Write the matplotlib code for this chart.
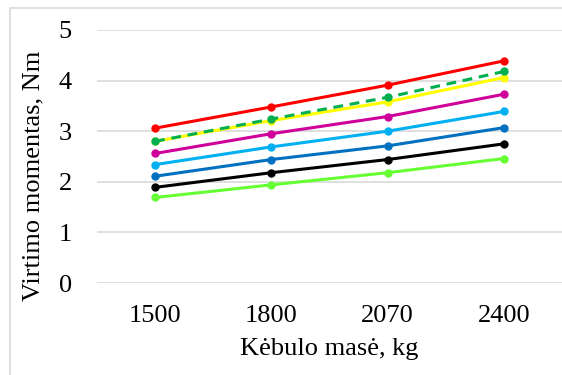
import matplotlib
matplotlib.use('Agg')
import matplotlib.pyplot as plt
from matplotlib.patches import Rectangle

# masses (x categories) and torque series, Nm
masses = ['1500', '1800', '2070', '2400']

red = [3.06, 3.48, 3.91, 4.39]
green_dash = [2.80, 3.24, 3.67, 4.18]
yellow = [2.80, 3.21, 3.58, 4.06]
magenta = [2.56, 2.95, 3.29, 3.73]
cyan = [2.34, 2.69, 3.00, 3.39]
blue = [2.11, 2.44, 2.71, 3.07]
black = [1.89, 2.18, 2.44, 2.75]
light_green = [1.69, 1.94, 2.18, 2.46]

series = [
    (light_green, '#66FF33', '-'),
    (black, '#000000', '-'),
    (blue, '#0070C0', '-'),
    (cyan, '#00B0F0', '-'),
    (magenta, '#D0009A', '-'),
    (yellow, '#FFFF00', '-'),
    (green_dash, '#00B050', (0, (3.2, 2.2))),
    (red, '#FF0000', '-'),
]

plt.rcParams['font.family'] = ['Liberation Serif', 'DejaVu Serif']

fig = plt.figure(figsize=(5.62, 3.75), dpi=100)
ax = fig.add_axes([97 / 562, 92 / 375, 465 / 562, 253 / 375])

x = list(range(len(masses)))
for vals, col, ls in series:
    ax.plot(x, vals, color=col, linestyle=ls, linewidth=2.2,
            marker='o', markersize=5, zorder=3)

ax.set_xlim(-0.5, 3.5)
ax.set_ylim(0, 5)
ax.set_yticks([0, 1, 2, 3, 4, 5])
ax.set_xticks(x)
ax.set_xticklabels(masses)
ax.grid(axis='y', color='#d9d9d9', linewidth=1.2)
ax.set_axisbelow(True)
for s in ax.spines.values():
    s.set_visible(False)
ax.tick_params(length=0, labelsize=19)
ax.tick_params(axis='x', pad=16)
ax.tick_params(axis='y', pad=18)

ax.set_xlabel('Kėbulo masė, kg', fontsize=19, labelpad=8)
ax.set_ylabel('Virtimo momentas, Nm', fontsize=19, va='center')
# axis title sits a little below the plot centre, like the source chart
ax.yaxis.set_label_coords(33 / 562, 199 / 375, transform=fig.transFigure)

# light outer frame of the chart area
fig.patches.append(Rectangle((10 / 562, -0.1), 1.2, (375 - 8) / 375 + 0.1,
                             transform=fig.transFigure, fill=False,
                             edgecolor='#d9d9d9', linewidth=1.2))

fig.savefig('out.png', dpi=100)
